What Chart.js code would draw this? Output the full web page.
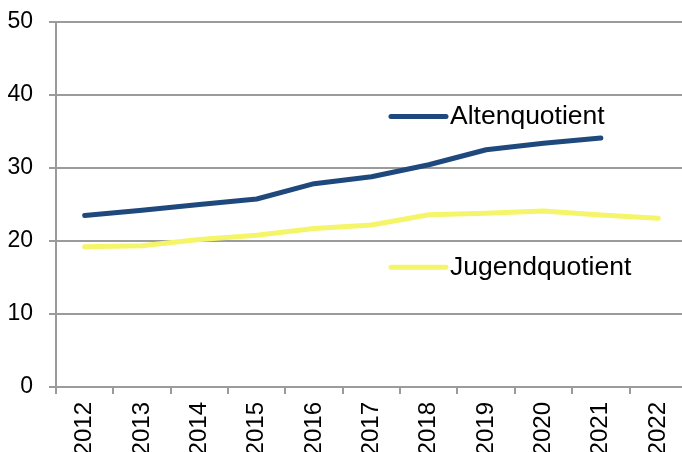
<!DOCTYPE html>
<html>
<head>
<meta charset="utf-8">
<script src="https://cdn.jsdelivr.net/npm/chart.js@4/dist/chart.umd.min.js"></script>
<style>
  html, body { margin: 0; padding: 0; background: #fff; }
  #wrap { width: 682px; height: 452px; overflow: hidden; }
</style>
</head>
<body>
<div id="wrap"><canvas id="chart" width="695" height="470"></canvas></div>
<script>
const years = ["2012", "2013", "2014", "2015", "2016", "2017", "2018", "2019", "2020", "2021", "2022"];
const altenquotient = [23.5, 24.2, 25.0, 25.75, 27.85, 28.8, 30.45, 32.5, 33.4, 34.1, null];
const jugendquotient = [19.2, 19.35, 20.2, 20.8, 21.7, 22.2, 23.6, 23.8, 24.1, 23.55, 23.1];

const NAVY = "#1f497d";
const YELLOW = "#f5f56a";
const GRID = "#9b9b9b";
const FONT = "Liberation Sans, Arial, sans-serif";

// legend entries drawn inside the plot, placed as fractions of the chart area
const legendPos = [
  { fx: 0.531, fy: 0.259 },
  { fx: 0.531, fy: 0.672 }
];

const insideLegend = {
  id: "insideLegend",
  afterDraw(chart) {
    const ctx = chart.ctx;
    const a = chart.chartArea;
    chart.data.datasets.forEach((ds, i) => {
      const x = a.left + legendPos[i].fx * (a.right - a.left);
      const y = a.top + legendPos[i].fy * (a.bottom - a.top);
      ctx.save();
      ctx.strokeStyle = ds.borderColor;
      ctx.lineWidth = 5;
      ctx.lineCap = "round";
      ctx.beginPath();
      ctx.moveTo(x, y);
      ctx.lineTo(x + 55, y);
      ctx.stroke();
      ctx.fillStyle = "#000";
      ctx.font = "26.5px " + FONT;
      ctx.textBaseline = "middle";
      ctx.fillText(ds.label, x + 59, y);
      ctx.restore();
    });
  }
};

new Chart(document.getElementById("chart"), {
  type: "line",
  data: {
    labels: years,
    datasets: [
      {
        label: "Altenquotient",
        data: altenquotient,
        borderColor: NAVY,
        backgroundColor: NAVY,
        borderWidth: 5,
        tension: 0,
        pointRadius: 0,
        borderCapStyle: "round",
        borderJoinStyle: "round"
      },
      {
        label: "Jugendquotient",
        data: jugendquotient,
        borderColor: YELLOW,
        backgroundColor: YELLOW,
        borderWidth: 5,
        tension: 0,
        pointRadius: 0,
        borderCapStyle: "round",
        borderJoinStyle: "round"
      }
    ]
  },
  options: {
    responsive: false,
    animation: false,
    devicePixelRatio: 1,
    layout: { padding: { top: 22, left: 0, right: 0, bottom: 0 } },
    plugins: {
      legend: { display: false },
      tooltip: { enabled: false }
    },
    scales: {
      x: {
        offset: true,
        grid: {
          offset: true,
          drawOnChartArea: false,
          color: GRID,
          lineWidth: 2,
          tickLength: 7
        },
        border: { color: GRID, width: 2 },
        ticks: {
          minRotation: 90,
          maxRotation: 90,
          autoSkip: false,
          padding: 8,
          color: "#000",
          font: { family: FONT, size: 24 }
        },
        afterFit: s => { s.height = 470 - 387; s.paddingTop = 0; s.paddingBottom = 0; }
      },
      y: {
        min: 0,
        max: 50,
        ticks: {
          stepSize: 10,
          padding: 16,
          color: "#000",
          font: { family: FONT, size: 23 }
        },
        grid: { color: GRID, lineWidth: 2, tickLength: 7 },
        border: { color: GRID, width: 2 },
        afterFit: s => { s.width = 56; s.paddingTop = 0; s.paddingBottom = 0; }
      }
    }
  },
  plugins: [insideLegend]
});
</script>
</body>
</html>
